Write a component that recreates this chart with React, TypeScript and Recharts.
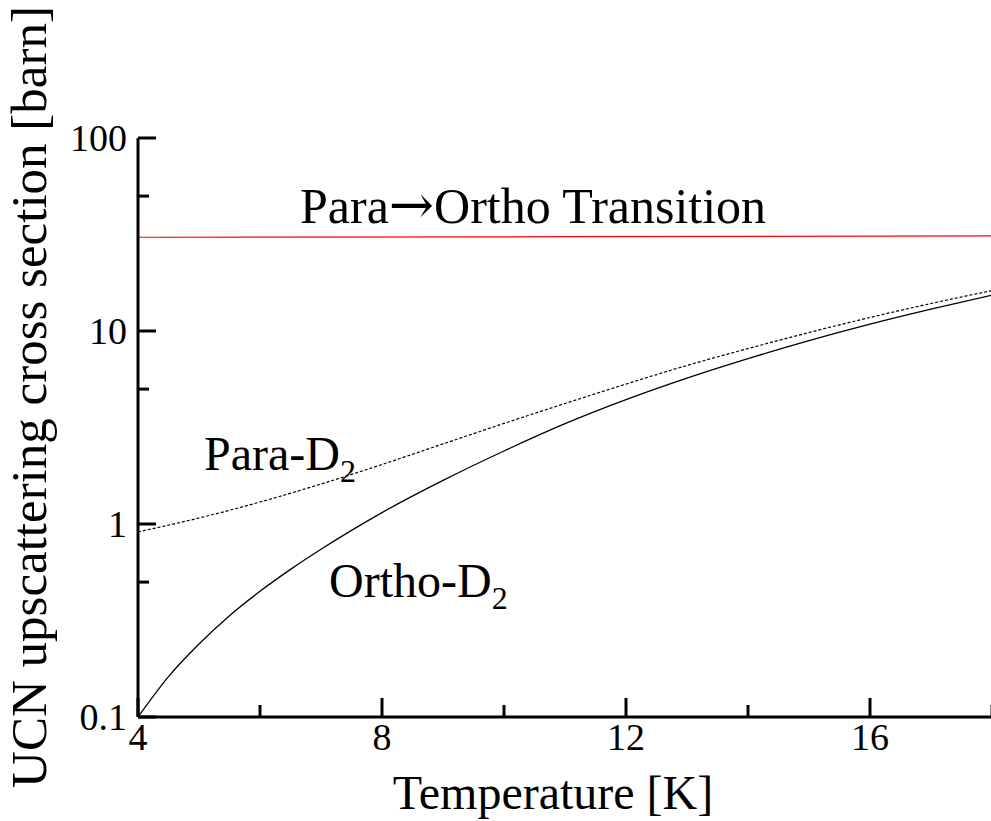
import React from "react";
import { LineChart, Line, XAxis, YAxis } from "recharts";

// temperature [K] and cross sections [barn]
const orthoTemps = [4, 4.5, 5, 5.5, 6, 6.5, 7, 7.5, 8, 9, 10, 11, 12, 13, 14, 15, 16, 17, 18];
const orthoD2 = [0.1, 0.162, 0.239, 0.335, 0.448, 0.582, 0.74, 0.927, 1.146, 1.683, 2.39, 3.31, 4.41, 5.7, 7.19, 8.92, 10.86, 12.99, 15.35];
const paraTemps = [4, 5, 6, 7, 8, 9, 10, 11, 12, 13, 14, 15, 16, 17, 18];
const paraD2 = [0.91, 1.074, 1.3, 1.611, 2.033, 2.6, 3.32, 4.21, 5.31, 6.63, 8.11, 9.82, 11.75, 13.88, 16.2];
const transitionT = [4, 11, 18];
const transitionVals = [30.6, 30.8, 31.1];

const xTicks = [4, 6, 8, 10, 12, 14, 16, 18];
const xLabels = [4, 8, 12, 16];
const yTicks = [0.1, 0.5, 1, 5, 10, 50, 100];
const yLabels = [0.1, 1, 10, 100];

const FONT = '"Liberation Serif", "Times New Roman", serif';

const orthoData = orthoTemps.map((T, i) => ({ T, v: orthoD2[i] }));
const paraData = paraTemps.map((T, i) => ({ T, v: paraD2[i] }));
const transitionData = transitionT.map((T, i) => ({ T, v: transitionVals[i] }));

const BottomTick = (props: any) => {
  const { x, y, payload } = props;
  const major = xLabels.includes(payload.value);
  const len = major ? 19 : 12;
  return (
    <g>
      <line x1={x} x2={x} y1={y} y2={y - len} stroke="#000" strokeWidth={3} />
      {major && (
        <text x={x} y={y + 33} textAnchor="middle" fontFamily={FONT} fontSize={38} fill="#000">
          {payload.value}
        </text>
      )}
    </g>
  );
};

const TopTick = (props: any) => {
  const { x, y, payload } = props;
  const len = xLabels.includes(payload.value) ? 19 : 12;
  return <line x1={x} x2={x} y1={y} y2={y + len} stroke="#000" strokeWidth={3} />;
};

const LeftTick = (props: any) => {
  const { x, y, payload } = props;
  const major = yLabels.includes(payload.value);
  const len = major ? 18 : 11;
  return (
    <g>
      <line x1={x} x2={x + len} y1={y} y2={y} stroke="#000" strokeWidth={3} />
      {major && (
        <text x={x - 11} y={y + 13} textAnchor="end" fontFamily={FONT} fontSize={38} fill="#000">
          {payload.value}
        </text>
      )}
    </g>
  );
};

const RightTick = (props: any) => {
  const { x, y, payload } = props;
  const len = yLabels.includes(payload.value) ? 18 : 11;
  return <line x1={x} x2={x - len} y1={y} y2={y} stroke="#000" strokeWidth={3} />;
};

const App = () => {
  return (
    <div
      style={{
        position: "fixed",
        left: 0,
        top: 0,
        width: 991,
        height: 821,
        overflow: "hidden",
        background: "#fff",
      }}
    >
      <LineChart width={1000} height={821} margin={{ top: 138, right: 8, bottom: 0, left: 0 }}>
        <XAxis
          xAxisId="b"
          dataKey="T"
          type="number"
          domain={[4, 18]}
          ticks={xTicks}
          height={104}
          tickSize={0}
          tickMargin={0}
          tickLine={false}
          axisLine={{ stroke: "#000", strokeWidth: 3 }}
          tick={<BottomTick />}
          interval={0}
          allowDuplicatedCategory={false}
        />
        <XAxis
          xAxisId="t"
          orientation="top"
          dataKey="T"
          type="number"
          domain={[4, 18]}
          ticks={xTicks}
          height={0}
          tickSize={0}
          tickMargin={0}
          tickLine={false}
          axisLine={{ stroke: "#000", strokeWidth: 3 }}
          tick={<TopTick />}
          interval={0}
        />
        <YAxis
          yAxisId="l"
          scale="log"
          domain={[0.1, 100]}
          allowDataOverflow={true}
          ticks={yTicks}
          width={138}
          tickSize={0}
          tickMargin={0}
          tickLine={false}
          axisLine={{ stroke: "#000", strokeWidth: 3 }}
          tick={<LeftTick />}
          interval={0}
        />
        <YAxis
          yAxisId="r"
          orientation="right"
          scale="log"
          domain={[0.1, 100]}
          allowDataOverflow={true}
          ticks={yTicks}
          width={0}
          tickSize={0}
          tickMargin={0}
          tickLine={false}
          axisLine={{ stroke: "#000", strokeWidth: 3 }}
          tick={<RightTick />}
          interval={0}
        />
        <Line
          xAxisId="b"
          yAxisId="l"
          data={transitionData}
          dataKey="v"
          type="linear"
          stroke="#ff0000"
          strokeWidth={1.2}
          dot={false}
          isAnimationActive={false}
        />
        <Line
          xAxisId="b"
          yAxisId="l"
          data={paraData}
          dataKey="v"
          type="monotone"
          stroke="#000"
          strokeWidth={1.2}
          strokeDasharray="3 2"
          dot={false}
          isAnimationActive={false}
        />
        <Line
          xAxisId="b"
          yAxisId="l"
          data={orthoData}
          dataKey="v"
          type="monotone"
          stroke="#000"
          strokeWidth={1.3}
          dot={false}
          isAnimationActive={false}
        />
      </LineChart>
      <svg
        width={991}
        height={821}
        style={{ position: "absolute", left: 0, top: 0, pointerEvents: "none" }}
      >
        <g fontFamily={FONT} fill="#000">
          <text x={553} y={809} textAnchor="middle" fontSize={48}>
            Temperature [K]
          </text>
          <text x={46} y={397} textAnchor="middle" fontSize={51} transform="rotate(-90 46 397)">
            UCN upscattering cross section [barn]
          </text>
          <text x={300} y={223} fontSize={50}>
            Para<tspan fontFamily='"DejaVu Serif", serif' fontSize={54}>→</tspan>Ortho Transition
          </text>
          <text x={204} y={470} fontSize={48}>
            Para-D<tspan fontSize={32} dy={12}>2</tspan>
          </text>
          <text x={329} y={597} fontSize={48}>
            Ortho-D<tspan fontSize={32} dy={12}>2</tspan>
          </text>
        </g>
      </svg>
    </div>
  );
};

export default App;
